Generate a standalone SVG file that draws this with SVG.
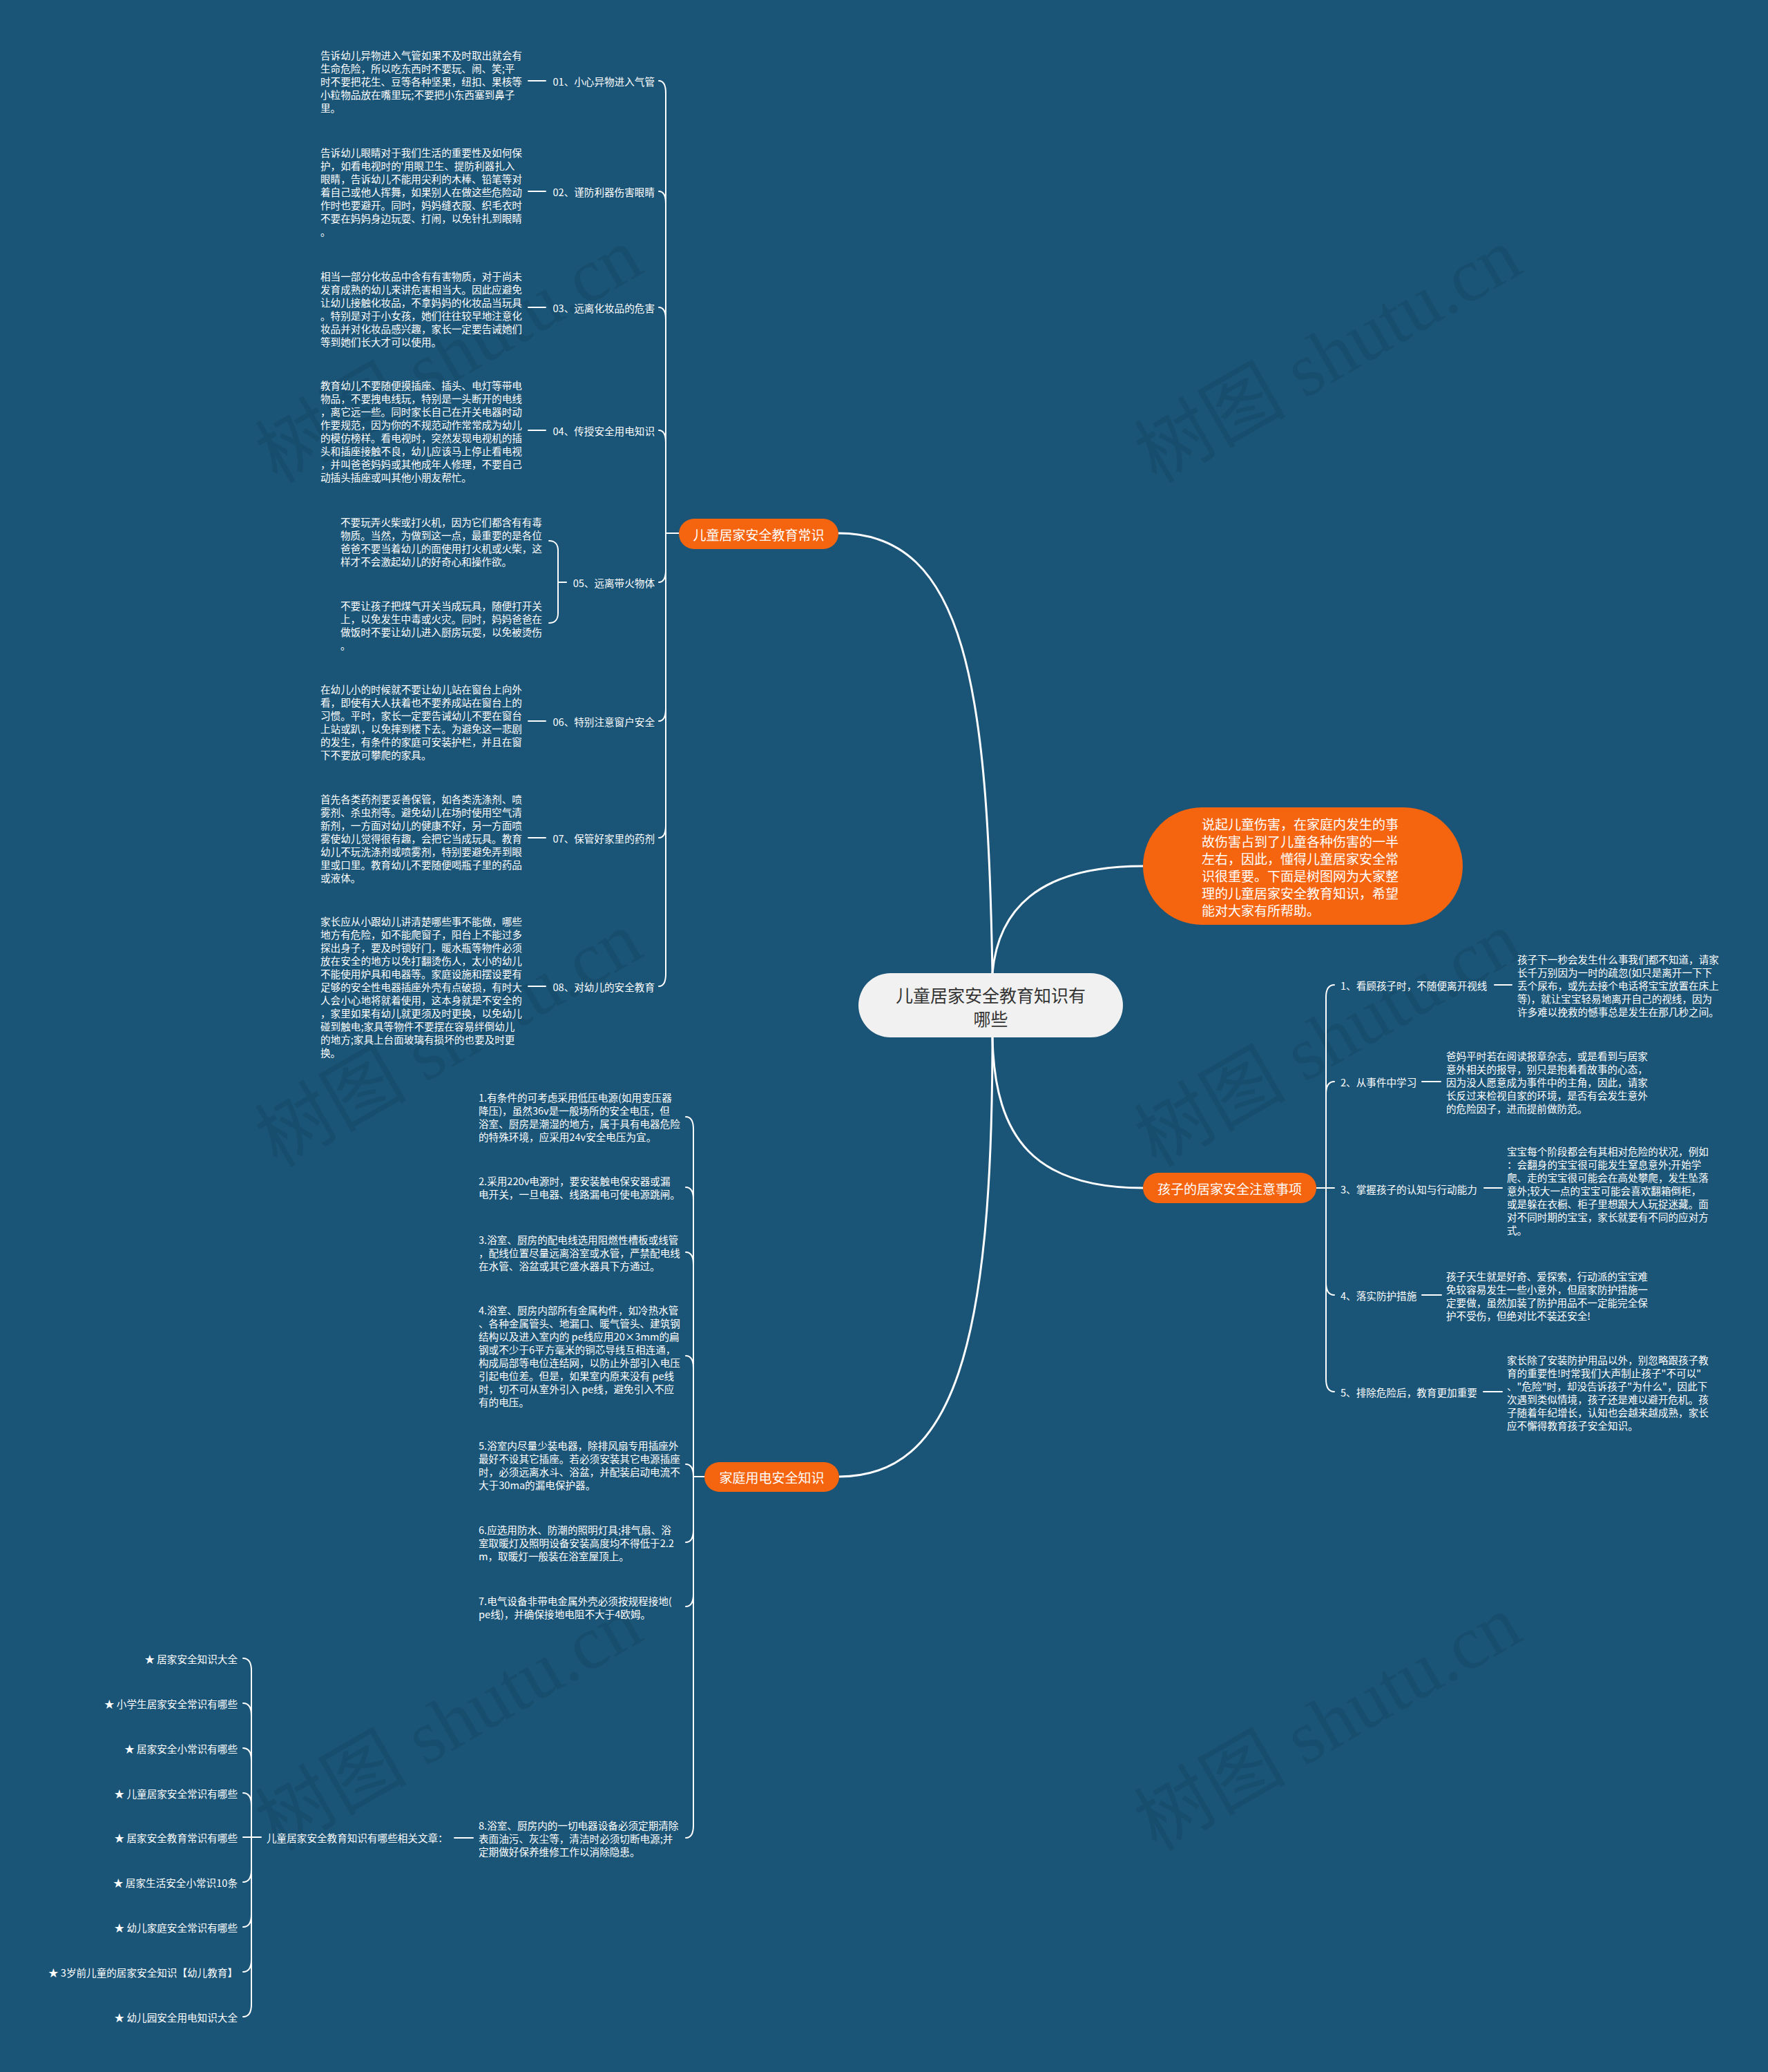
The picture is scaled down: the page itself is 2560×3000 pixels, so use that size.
<svg xmlns="http://www.w3.org/2000/svg" width="2560" height="3000" viewBox="0 0 2560 3000">
<style>
.t{font-family:"Noto Sans CJK SC","Noto Sans",sans-serif;font-size:14.6px;fill:#ffffff;dominant-baseline:central}
.e{text-anchor:end}
.br{font-family:"Noto Sans CJK SC","Noto Sans",sans-serif;font-size:19px;fill:#ffffff;text-anchor:middle;dominant-baseline:central}
.in{font-family:"Noto Sans CJK SC","Noto Sans",sans-serif;font-size:19px;fill:#ffffff;dominant-baseline:central}
.ct{font-family:"Noto Sans CJK SC","Noto Sans",sans-serif;font-size:25px;fill:#333333;text-anchor:middle;dominant-baseline:central}
.ob{fill:#f5640f}
.c{fill:none;stroke:#ffffff;stroke-width:2;stroke-linecap:round}
.cm{fill:none;stroke:#ffffff;stroke-width:3}
.wm{font-family:"Liberation Serif","Noto Sans CJK SC",serif;font-size:110px;fill:#000000;fill-opacity:0.08;text-anchor:middle;dominant-baseline:central}
</style>
<rect x="0" y="0" width="2560" height="3000" fill="#1a5477"/>
<g id="watermarks">
<text class="wm" transform="translate(650,515) rotate(-30)">树图 shutu.cn</text>
<text class="wm" transform="translate(1923,515) rotate(-30)">树图 shutu.cn</text>
<text class="wm" transform="translate(650,1505) rotate(-30)">树图 shutu.cn</text>
<text class="wm" transform="translate(1923,1505) rotate(-30)">树图 shutu.cn</text>
<text class="wm" transform="translate(650,2495) rotate(-30)">树图 shutu.cn</text>
<text class="wm" transform="translate(1923,2495) rotate(-30)">树图 shutu.cn</text>
</g>
<g id="connectors">
<path class="cm" d="M1437,1409 C1430,1000 1400,772 1214,772"/>
<path class="cm" d="M1437,1409 C1445,1320 1500,1254 1655,1254"/>
<path class="cm" d="M1437,1502 C1440,1650 1500,1720 1655,1720"/>
<path class="cm" d="M1437,1502 C1437,1950 1380,2138 1215,2138"/>
<path class="c" d="M983,772 H964"/>
<path class="c" d="M964,772 V135 C964,123 960,117 954,117"/>
<path class="c" d="M964,772 V295 C964,283 960,277 954,277"/>
<path class="c" d="M964,772 V463 C964,451 960,445 954,445"/>
<path class="c" d="M964,772 V641 C964,629 960,623 954,623"/>
<path class="c" d="M964,772 V825 C964,837 960,843 954,843"/>
<path class="c" d="M964,772 V1026 C964,1038 960,1044 954,1044"/>
<path class="c" d="M964,772 V1195 C964,1207 960,1213 954,1213"/>
<path class="c" d="M964,772 V1410 C964,1422 960,1428 954,1428"/>
<path class="c" d="M765,117 H790 M765,277 H790 M765,445 H790 M765,623 H790 M765,1044 H790 M765,1213 H790 M765,1428 H790"/>
<path class="c" d="M820,843 H808 M808,843 V797 C808,789 804,783 795,783 M808,843 V888 C808,896 804,902 795,902"/>
<path class="c" d="M1906,1720 H1932"/>
<path class="c" d="M1920,1720 V1444 C1920,1432 1924,1426 1932,1426"/>
<path class="c" d="M1920,1720 V1584 C1920,1572 1924,1566 1932,1566"/>
<path class="c" d="M1920,1720 V1857 C1920,1869 1924,1875 1932,1875"/>
<path class="c" d="M1920,1720 V1997 C1920,2009 1924,2015 1932,2015"/>
<path class="c" d="M2164,1426 H2189 M2059,1566 H2086 M2149,1720 H2175 M2059,1875 H2087 M2148,2015 H2175"/>
<path class="c" d="M1020,2138 H1004"/>
<path class="c" d="M1004,2138 V1635 C1004,1623 1000,1617 993,1617"/>
<path class="c" d="M1004,2138 V1737 C1004,1725 1000,1719 993,1719"/>
<path class="c" d="M1004,2138 V1831 C1004,1819 1000,1813 993,1813"/>
<path class="c" d="M1004,2138 V1981 C1004,1969 1000,1963 993,1963"/>
<path class="c" d="M1004,2138 C1004,2126 1000,2120 993,2120"/>
<path class="c" d="M1004,2138 V2215 C1004,2227 1000,2233 993,2233"/>
<path class="c" d="M1004,2138 V2308 C1004,2320 1000,2326 993,2326"/>
<path class="c" d="M1004,2138 V2643 C1004,2655 1000,2661 993,2661"/>
<path class="c" d="M658,2661 H685"/>
<path class="c" d="M378,2660 H352"/>
<path class="c" d="M364,2660 V2419 C364,2407 360,2401 352,2401"/>
<path class="c" d="M364,2660 V2484 C364,2472 360,2466 352,2466"/>
<path class="c" d="M364,2660 V2549 C364,2537 360,2531 352,2531"/>
<path class="c" d="M364,2660 V2614 C364,2602 360,2596 352,2596"/>
<path class="c" d="M364,2660 V2707 C364,2719 360,2725 352,2725"/>
<path class="c" d="M364,2660 V2772 C364,2784 360,2790 352,2790"/>
<path class="c" d="M364,2660 V2837 C364,2849 360,2855 352,2855"/>
<path class="c" d="M364,2660 V2902 C364,2914 360,2920 352,2920"/>
</g>
<g id="center">
<rect x="1243" y="1409" width="383" height="93" rx="46.5" fill="#f1f1f1"/>
<text class="ct"><tspan x="1434.5" y="1440">儿童居家安全教育知识有</tspan><tspan x="1434.5" y="1474">哪些</tspan></text>
</g>
<g id="intro">
<rect class="ob" x="1655" y="1169" width="463" height="170" rx="85"/>
<text class="in"><tspan x="1740" y="1192">说起儿童伤害，在家庭内发生的事</tspan><tspan x="1740" y="1217">故伤害占到了儿童各种伤害的一半</tspan><tspan x="1740" y="1242">左右，因此，懂得儿童居家安全常</tspan><tspan x="1740" y="1267">识很重要。下面是树图网为大家整</tspan><tspan x="1740" y="1292">理的儿童居家安全教育知识，希望</tspan><tspan x="1740" y="1317">能对大家有所帮助。</tspan></text>
</g>
<g id="branch-1">
<rect class="ob" x="983" y="751" width="231" height="44" rx="22"/>
<text class="br" x="1098.5" y="773">儿童居家安全教育常识</text>
</g>
<g id="b1-01">
<text class="t e" x="948" y="117">01、小心异物进入气管</text>
<text class="t"><tspan x="464" y="79">告诉幼儿异物进入气管如果不及时取出就会有</tspan><tspan x="464" y="98">生命危险，所以吃东西时不要玩、闹、笑;平</tspan><tspan x="464" y="117">时不要把花生、豆等各种坚果，纽扣、果核等</tspan><tspan x="464" y="136">小粒物品放在嘴里玩;不要把小东西塞到鼻子</tspan><tspan x="464" y="155">里。</tspan></text>
</g>
<g id="b1-02">
<text class="t e" x="948" y="277">02、谨防利器伤害眼睛</text>
<text class="t"><tspan x="464" y="220">告诉幼儿眼睛对于我们生活的重要性及如何保</tspan><tspan x="464" y="239">护，如看电视时的'用眼卫生、提防利器扎入</tspan><tspan x="464" y="258">眼睛，告诉幼儿不能用尖利的木棒、铅笔等对</tspan><tspan x="464" y="277">着自己或他人挥舞，如果别人在做这些危险动</tspan><tspan x="464" y="296">作时也要避开。同时，妈妈缝衣服、织毛衣时</tspan><tspan x="464" y="315">不要在妈妈身边玩耍、打闹，以免针扎到眼睛</tspan><tspan x="464" y="334">。</tspan></text>
</g>
<g id="b1-03">
<text class="t e" x="948" y="445">03、远离化妆品的危害</text>
<text class="t"><tspan x="464" y="398.5">相当一部分化妆品中含有有害物质，对于尚未</tspan><tspan x="464" y="417.5">发育成熟的幼儿来讲危害相当大。因此应避免</tspan><tspan x="464" y="436.5">让幼儿接触化妆品，不拿妈妈的化妆品当玩具</tspan><tspan x="464" y="455.5">。特别是对于小女孩，她们往往较早地注意化</tspan><tspan x="464" y="474.5">妆品并对化妆品感兴趣，家长一定要告诫她们</tspan><tspan x="464" y="493.5">等到她们长大才可以使用。</tspan></text>
</g>
<g id="b1-04">
<text class="t e" x="948" y="623">04、传授安全用电知识</text>
<text class="t"><tspan x="464" y="556.5">教育幼儿不要随便摸插座、插头、电灯等带电</tspan><tspan x="464" y="575.5">物品，不要拽电线玩，特别是一头断开的电线</tspan><tspan x="464" y="594.5">，离它远一些。同时家长自己在开关电器时动</tspan><tspan x="464" y="613.5">作要规范，因为你的不规范动作常常成为幼儿</tspan><tspan x="464" y="632.5">的模仿榜样。看电视时，突然发现电视机的插</tspan><tspan x="464" y="651.5">头和插座接触不良，幼儿应该马上停止看电视</tspan><tspan x="464" y="670.5">，并叫爸爸妈妈或其他成年人修理，不要自己</tspan><tspan x="464" y="689.5">动插头插座或叫其他小朋友帮忙。</tspan></text>
</g>
<g id="b1-05">
<text class="t e" x="948" y="843">05、远离带火物体</text>
<text class="t"><tspan x="493" y="755">不要玩弄火柴或打火机，因为它们都含有有毒</tspan><tspan x="493" y="774">物质。当然，为做到这一点，最重要的是各位</tspan><tspan x="493" y="793">爸爸不要当着幼儿的面使用打火机或火柴，这</tspan><tspan x="493" y="812">样才不会激起幼儿的好奇心和操作欲。</tspan></text>
<text class="t"><tspan x="493" y="876">不要让孩子把煤气开关当成玩具，随便打开关</tspan><tspan x="493" y="895">上，以免发生中毒或火灾。同时，妈妈爸爸在</tspan><tspan x="493" y="914">做饭时不要让幼儿进入厨房玩耍，以免被烫伤</tspan><tspan x="493" y="933">。</tspan></text>
</g>
<g id="b1-06">
<text class="t e" x="948" y="1044">06、特别注意窗户安全</text>
<text class="t"><tspan x="464" y="997">在幼儿小的时候就不要让幼儿站在窗台上向外</tspan><tspan x="464" y="1016">看，即使有大人扶着也不要养成站在窗台上的</tspan><tspan x="464" y="1035">习惯。平时，家长一定要告诫幼儿不要在窗台</tspan><tspan x="464" y="1054">上站或趴，以免摔到楼下去。为避免这一悲剧</tspan><tspan x="464" y="1073">的发生，有条件的家庭可安装护栏，并且在窗</tspan><tspan x="464" y="1092">下不要放可攀爬的家具。</tspan></text>
</g>
<g id="b1-07">
<text class="t e" x="948" y="1213">07、保管好家里的药剂</text>
<text class="t"><tspan x="464" y="1156">首先各类药剂要妥善保管，如各类洗涤剂、喷</tspan><tspan x="464" y="1175">雾剂、杀虫剂等。避免幼儿在场时使用空气清</tspan><tspan x="464" y="1194">新剂，一方面对幼儿的健康不好，另一方面喷</tspan><tspan x="464" y="1213">雾使幼儿觉得很有趣，会把它当成玩具。教育</tspan><tspan x="464" y="1232">幼儿不玩洗涤剂或喷雾剂，特别要避免弄到眼</tspan><tspan x="464" y="1251">里或口里。教育幼儿不要随便喝瓶子里的药品</tspan><tspan x="464" y="1270">或液体。</tspan></text>
</g>
<g id="b1-08">
<text class="t e" x="948" y="1428">08、对幼儿的安全教育</text>
<text class="t"><tspan x="464" y="1333">家长应从小跟幼儿讲清楚哪些事不能做，哪些</tspan><tspan x="464" y="1352">地方有危险，如不能爬窗子，阳台上不能过多</tspan><tspan x="464" y="1371">探出身子，要及时锁好门，暖水瓶等物件必须</tspan><tspan x="464" y="1390">放在安全的地方以免打翻烫伤人，太小的幼儿</tspan><tspan x="464" y="1409">不能使用炉具和电器等。家庭设施和摆设要有</tspan><tspan x="464" y="1428">足够的安全性电器插座外壳有点破损，有时大</tspan><tspan x="464" y="1447">人会小心地将就着使用，这本身就是不安全的</tspan><tspan x="464" y="1466">，家里如果有幼儿就更须及时更换，以免幼儿</tspan><tspan x="464" y="1485">碰到触电;家具等物件不要摆在容易绊倒幼儿</tspan><tspan x="464" y="1504">的地方;家具上台面玻璃有损坏的也要及时更</tspan><tspan x="464" y="1523">换。</tspan></text>
</g>
<g id="branch-2">
<rect class="ob" x="1655" y="1698" width="251" height="44" rx="22"/>
<text class="br" x="1780.5" y="1720">孩子的居家安全注意事项</text>
</g>
<g id="b2-1">
<text class="t" x="1941" y="1426">1、看顾孩子时，不随便离开视线</text>
<text class="t"><tspan x="2197" y="1388">孩子下一秒会发生什么事我们都不知道，请家</tspan><tspan x="2197" y="1407">长千万别因为一时的疏忽(如只是离开一下下</tspan><tspan x="2197" y="1426">丢个尿布，或先去接个电话将宝宝放置在床上</tspan><tspan x="2197" y="1445">等)，就让宝宝轻易地离开自己的视线，因为</tspan><tspan x="2197" y="1464">许多难以挽救的憾事总是发生在那几秒之间。</tspan></text>
</g>
<g id="b2-2">
<text class="t" x="1941" y="1566">2、从事件中学习</text>
<text class="t"><tspan x="2094" y="1528">爸妈平时若在阅读报章杂志，或是看到与居家</tspan><tspan x="2094" y="1547">意外相关的报导，别只是抱着看故事的心态，</tspan><tspan x="2094" y="1566">因为没人愿意成为事件中的主角，因此，请家</tspan><tspan x="2094" y="1585">长反过来检视自家的环境，是否有会发生意外</tspan><tspan x="2094" y="1604">的危险因子，进而提前做防范。</tspan></text>
</g>
<g id="b2-3">
<text class="t" x="1941" y="1721">3、掌握孩子的认知与行动能力</text>
<text class="t"><tspan x="2182" y="1666">宝宝每个阶段都会有其相对危险的状况，例如</tspan><tspan x="2182" y="1685">：会翻身的宝宝很可能发生窒息意外;开始学</tspan><tspan x="2182" y="1704">爬、走的宝宝很可能会在高处攀爬，发生坠落</tspan><tspan x="2182" y="1723">意外;较大一点的宝宝可能会喜欢翻箱倒柜，</tspan><tspan x="2182" y="1742">或是躲在衣橱、柜子里想跟大人玩捉迷藏。面</tspan><tspan x="2182" y="1761">对不同时期的宝宝，家长就要有不同的应对方</tspan><tspan x="2182" y="1780">式。</tspan></text>
</g>
<g id="b2-4">
<text class="t" x="1941" y="1875">4、落实防护措施</text>
<text class="t"><tspan x="2094" y="1846.5">孩子天生就是好奇、爱探索，行动派的宝宝难</tspan><tspan x="2094" y="1865.5">免较容易发生一些小意外，但居家防护措施一</tspan><tspan x="2094" y="1884.5">定要做，虽然加装了防护用品不一定能完全保</tspan><tspan x="2094" y="1903.5">护不受伤，但绝对比不装还安全!</tspan></text>
</g>
<g id="b2-5">
<text class="t" x="1941" y="2015">5、排除危险后，教育更加重要</text>
<text class="t"><tspan x="2182" y="1967.5">家长除了安装防护用品以外，别忽略跟孩子教</tspan><tspan x="2182" y="1986.5">育的重要性!时常我们大声制止孩子"不可以"</tspan><tspan x="2182" y="2005.5">、"危险"时，却没告诉孩子"为什么"，因此下</tspan><tspan x="2182" y="2024.5">次遇到类似情境，孩子还是难以避开危机。孩</tspan><tspan x="2182" y="2043.5">子随着年纪增长，认知也会越来越成熟，家长</tspan><tspan x="2182" y="2062.5">应不懈得教育孩子安全知识。</tspan></text>
</g>
<g id="branch-3">
<rect class="ob" x="1020" y="2117" width="195" height="43" rx="21.5"/>
<text class="br" x="1117.5" y="2138.5">家庭用电安全知识</text>
</g>
<g id="b3-1">
<text class="t"><tspan x="693" y="1588">1.有条件的可考虑采用低压电源(如用变压器</tspan><tspan x="693" y="1607">降压)，虽然36v是一般场所的安全电压，但</tspan><tspan x="693" y="1626">浴室、厨房是潮湿的地方，属于具有电器危险</tspan><tspan x="693" y="1645">的特殊环境，应采用24v安全电压为宜。</tspan></text>
</g>
<g id="b3-2">
<text class="t"><tspan x="693" y="1709">2.采用220v电源时，要安装触电保安器或漏</tspan><tspan x="693" y="1728">电开关，一旦电器、线路漏电可使电源跳闸。</tspan></text>
</g>
<g id="b3-3">
<text class="t"><tspan x="693" y="1794">3.浴室、厨房的配电线选用阻燃性槽板或线管</tspan><tspan x="693" y="1813">，配线位置尽量远离浴室或水管，严禁配电线</tspan><tspan x="693" y="1832">在水管、浴盆或其它盛水器具下方通过。</tspan></text>
</g>
<g id="b3-4">
<text class="t"><tspan x="693" y="1896">4.浴室、厨房内部所有金属构件，如冷热水管</tspan><tspan x="693" y="1915">、各种金属管头、地漏口、暖气管头、建筑钢</tspan><tspan x="693" y="1934">结构以及进入室内的 pe线应用20×3mm的扁</tspan><tspan x="693" y="1953">钢或不少于6平方毫米的铜芯导线互相连通，</tspan><tspan x="693" y="1972">构成局部等电位连结网，以防止外部引入电压</tspan><tspan x="693" y="1991">引起电位差。但是，如果室内原来没有 pe线</tspan><tspan x="693" y="2010">时，切不可从室外引入 pe线，避免引入不应</tspan><tspan x="693" y="2029">有的电压。</tspan></text>
</g>
<g id="b3-5">
<text class="t"><tspan x="693" y="2092">5.浴室内尽量少装电器，除排风扇专用插座外</tspan><tspan x="693" y="2111">最好不设其它插座。若必须安装其它电源插座</tspan><tspan x="693" y="2130">时，必须远离水斗、浴盆，并配装启动电流不</tspan><tspan x="693" y="2149">大于30ma的漏电保护器。</tspan></text>
</g>
<g id="b3-6">
<text class="t"><tspan x="693" y="2214">6.应选用防水、防潮的照明灯具;排气扇、浴</tspan><tspan x="693" y="2233">室取暖灯及照明设备安装高度均不得低于2.2</tspan><tspan x="693" y="2252">m，取暖灯一般装在浴室屋顶上。</tspan></text>
</g>
<g id="b3-7">
<text class="t"><tspan x="693" y="2317">7.电气设备非带电金属外壳必须按规程接地(</tspan><tspan x="693" y="2336">pe线)，并确保接地电阻不大于4欧姆。</tspan></text>
</g>
<g id="b3-8">
<text class="t"><tspan x="693" y="2642">8.浴室、厨房内的一切电器设备必须定期清除</tspan><tspan x="693" y="2661">表面油污、灰尘等，清洁时必须切断电源;并</tspan><tspan x="693" y="2680">定期做好保养维修工作以消除隐患。</tspan></text>
</g>
<g id="related">
<text class="t" x="386" y="2660">儿童居家安全教育知识有哪些相关文章：</text>
</g>
<g id="related-items">
<text class="t e" x="344" y="2401">★ 居家安全知识大全</text>
<text class="t e" x="344" y="2466">★ 小学生居家安全常识有哪些</text>
<text class="t e" x="344" y="2531">★ 居家安全小常识有哪些</text>
<text class="t e" x="344" y="2596">★ 儿童居家安全常识有哪些</text>
<text class="t e" x="344" y="2660">★ 居家安全教育常识有哪些</text>
<text class="t e" x="344" y="2725">★ 居家生活安全小常识10条</text>
<text class="t e" x="344" y="2790">★ 幼儿家庭安全常识有哪些</text>
<text class="t e" x="344" y="2855">★ 3岁前儿童的居家安全知识【幼儿教育】</text>
<text class="t e" x="344" y="2920">★ 幼儿园安全用电知识大全</text>
</g>
</svg>
